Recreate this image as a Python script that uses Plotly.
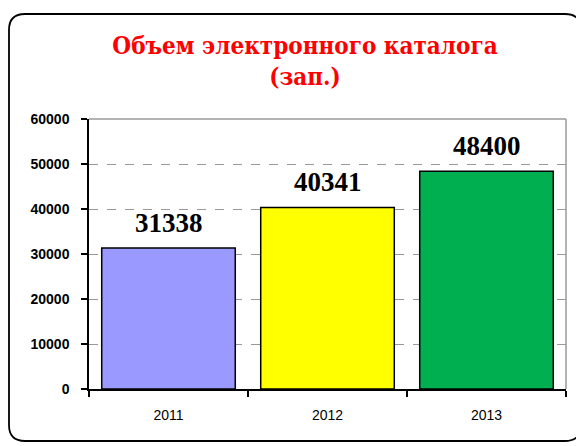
import plotly.graph_objects as go

years = ["2011", "2012", "2013"]
values = [31338, 40341, 48400]
colors = ["#9999FF", "#FFFF00", "#00B050"]
title_text = "Объем электронного каталога<br>(зап.)"

OFF = 8  # browser body margin
W, H = 584 - OFF, 446 - OFF
L, R, T, B = 89 - OFF, 18, 119 - OFF, 57
pw, ph = W - L - R, H - T - B

def px(x):
    return (x - OFF - L) / pw

def py(y):
    return (H - B - (y - OFF)) / ph

# rounded frame path (reference pixel coords -> paper coords)
x0, x1, y0, y1, r = 9, 581, 14, 441, 16
path = (
    f"M {px(x0 + r)} {py(y0)} L {px(x1 - r)} {py(y0)} "
    f"Q {px(x1)} {py(y0)} {px(x1)} {py(y0 + r)} "
    f"L {px(x1)} {py(y1 - r)} Q {px(x1)} {py(y1)} {px(x1 - r)} {py(y1)} "
    f"L {px(x0 + r)} {py(y1)} Q {px(x0)} {py(y1)} {px(x0)} {py(y1 - r)} "
    f"L {px(x0)} {py(y0 + r)} Q {px(x0)} {py(y0)} {px(x0 + r)} {py(y0)} Z"
)

serif = "Liberation Serif, serif"
title_serif = "DejaVu Serif Condensed, DejaVu Serif, serif"
sans = "Liberation Sans, Arial, sans-serif"

fig = go.Figure()
fig.add_trace(go.Bar(
    x=years, y=values,
    marker=dict(color=colors, line=dict(color="black", width=1.5)),
    width=0.84,
    cliponaxis=False,
))

annotations = [
    dict(x=i, y=v, xref="x", yref="y", text=f"<b>{v}</b>", showarrow=False,
         yanchor="bottom", yshift=8,
         font=dict(family=serif, size=27, color="black"))
    for i, v in enumerate(values)
]

fig.update_layout(
    width=W, height=H,
    margin=dict(l=L, r=R, t=T, b=B),
    paper_bgcolor="white", plot_bgcolor="white",
    showlegend=False,
    annotations=annotations,
    title=dict(
        text=f"<b>{title_text}</b>",
        x=(305 - OFF) / W, xanchor="center",
        y=1 - (54 - OFF) / H, yanchor="top",
        font=dict(family=title_serif, size=24, color="#FF0000"),
    ),
    xaxis=dict(
        type="category",
        range=[-0.5, 2.5],
        showline=True, linecolor="black", linewidth=1.5,
        ticks="outside", ticklen=6, tickcolor="black", tickwidth=1.5,
        tickson="boundaries",
        ticklabelstandoff=12,
        showgrid=False,
        tickangle=0,
        tickfont=dict(family=sans, size=14, color="black"),
    ),
    yaxis=dict(
        range=[0, 60000], dtick=10000, tickformat="d",
        showline=True, linecolor="black", linewidth=1.5,
        ticks="outside", ticklen=6, tickcolor="black", tickwidth=1.5,
        ticklabelstandoff=9,
        showgrid=True, gridcolor="#999999", griddash="dash", gridwidth=1,
        zeroline=False,
        tickfont=dict(family=sans, size=14, color="black", weight="bold"),
    ),
    shapes=[
        dict(type="line", xref="paper", yref="paper", x0=0, x1=1, y0=1, y1=1,
             line=dict(color="#999999", width=1.5), layer="below"),
        dict(type="line", xref="paper", yref="paper", x0=1, x1=1, y0=0, y1=1,
             line=dict(color="#999999", width=1.5), layer="below"),
        dict(type="path", xref="paper", yref="paper", path=path,
             line=dict(color="black", width=1.8), fillcolor="rgba(0,0,0,0)"),
    ],
)

fig.write_html("out.html")
